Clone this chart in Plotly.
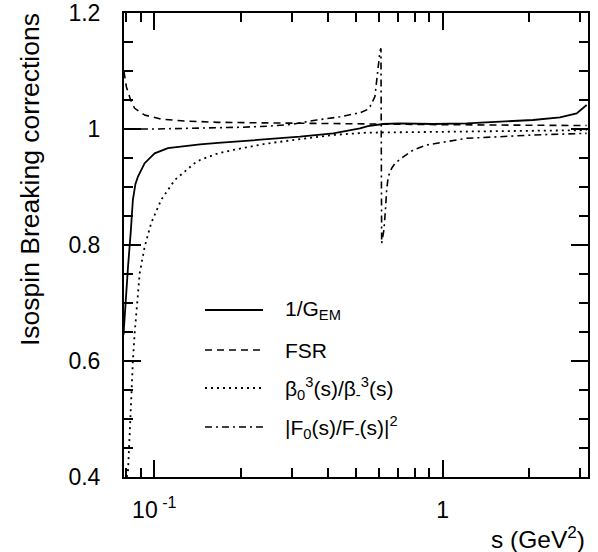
import plotly.graph_objects as go

# ---------------- data ----------------
s_gem = [0.0782, 0.0790, 0.0811, 0.0828, 0.0843, 0.0860, 0.0878, 0.0926, 0.1003,
         0.1115, 0.1274, 0.1441, 0.1663, 0.1879, 0.2453, 0.3200, 0.4174, 0.5167,
         0.5500, 0.6223, 0.7110, 0.9256, 1.211, 1.580, 2.056, 2.552, 2.915, 3.157]
v_gem = [0.645, 0.680, 0.763, 0.820, 0.878, 0.905, 0.918, 0.941, 0.958,
         0.967, 0.971, 0.9736, 0.976, 0.978, 0.982, 0.9867, 0.9925, 1.001,
         1.005, 1.0086, 1.0098, 1.0086, 1.0098, 1.0126, 1.0155, 1.020, 1.027, 1.0414]

s_fsr = [0.0785, 0.0800, 0.0828, 0.0855, 0.0926, 0.1057, 0.1274, 0.1420, 0.1663,
         0.2450, 0.3200, 0.5167, 0.6200, 1.000, 2.000, 3.157]
v_fsr = [1.099, 1.073, 1.050, 1.0357, 1.024, 1.017, 1.0138, 1.0126, 1.0115,
         1.0105, 1.0098, 1.0090, 1.0086, 1.0075, 1.0065, 1.006]

s_beta = [0.0803, 0.0811, 0.0822, 0.0832, 0.0843, 0.0855, 0.0873, 0.0890, 0.0926,
          0.0976, 0.1057, 0.1177, 0.1380, 0.1441, 0.1663, 0.1879, 0.2453, 0.3200,
          0.4174, 0.5450, 0.7110, 1.000, 1.580, 3.157]
v_beta = [0.400, 0.412, 0.476, 0.550, 0.600, 0.648, 0.705, 0.751, 0.797,
          0.838, 0.878, 0.912, 0.941, 0.9466, 0.958, 0.964, 0.975, 0.983,
          0.9897, 0.9937, 0.9943, 0.9955, 0.997, 0.998]

s_ff = [0.0785, 0.1000, 0.2000, 0.2500, 0.3000, 0.3657, 0.4404, 0.5167, 0.5450,
        0.5597, 0.5823, 0.5903, 0.5979, 0.6061, 0.6110, 0.6125, 0.6144, 0.6257,
        0.6308, 0.6344, 0.6394, 0.6477, 0.6654, 0.6836, 0.7301, 0.7907, 0.8800,
        0.9532, 1.148, 1.211, 1.580, 2.056, 3.157]
v_ff = [1.000, 1.000, 1.003, 1.005, 1.008, 1.0155, 1.021, 1.028, 1.033,
        1.0385, 1.056, 1.084, 1.116, 1.134, 1.139, 1.000, 0.803, 0.826,
        0.843, 0.866, 0.895, 0.918, 0.932, 0.941, 0.952, 0.9638, 0.9724,
        0.975, 0.981, 0.984, 0.9867, 0.9897, 0.9925]

legend_labels = ["1/G<sub>EM</sub>", "FSR",
                 "β<sub>0</sub><sup>3</sup>(s)/β<sub>-</sub><sup>3</sup>(s)",
                 "|F<sub>0</sub>(s)/F<sub>-</sub>(s)|<sup>2</sup>"]

x_major = [0.1, 1]
x_major_text = ["10<sup> -1</sup>", "1"]
x_minor = [0.08, 0.09, 0.2, 0.3, 0.4, 0.5, 0.6, 0.7, 0.8, 0.9, 2, 3]
y_major = [0.4, 0.6, 0.8, 1.0, 1.2]
y_major_text = ["0.4", "0.6", "0.8", "1", "1.2"]

# ---------------- styling ----------------
FONT = "Liberation Sans, Arial, Helvetica, sans-serif"
dashes = ["solid", "7px,5px", "2px,4px", "7px,4px,2px,4px"]
widths = [1.8, 1.6, 1.8, 1.6]

fig = go.Figure()
series = [(s_gem, v_gem), (s_fsr, v_fsr), (s_beta, v_beta), (s_ff, v_ff)]
for (sx, sy), d, w, name in zip(series, dashes, widths, legend_labels):
    fig.add_trace(go.Scatter(x=sx, y=sy, mode="lines", name=name,
                             line=dict(color="black", width=w, dash=d),
                             showlegend=False, hoverinfo="skip"))

# manual legend
L, R, T, B = 124, 588, 13, 477
W, H = R - L, B - T
def px(xp):
    return (xp - L) / W
def py(yp):
    return (B - yp) / H

row_y = [310, 350, 388, 427]
for ry, d, w, lab in zip(row_y, dashes, widths, legend_labels):
    fig.add_shape(type="line", xref="paper", yref="paper",
                  x0=px(205), x1=px(263), y0=py(ry), y1=py(ry),
                  line=dict(color="black", width=w, dash=d))
    fig.add_annotation(xref="paper", yref="paper", x=px(283), y=py(ry),
                       text=lab, showarrow=False, xanchor="left", yanchor="middle",
                       font=dict(family=FONT, size=21, color="black"))

# axis titles
fig.add_annotation(xref="paper", yref="paper", x=px(30), y=py(180),
                   text="Isospin Breaking corrections", textangle=-90,
                   showarrow=False, xanchor="center", yanchor="middle",
                   font=dict(family=FONT, size=26.5, color="black"))
fig.add_annotation(xref="paper", yref="paper", x=px(587), y=py(537),
                   text="s (GeV<sup>2</sup>)", showarrow=False,
                   xanchor="right", yanchor="middle",
                   font=dict(family=FONT, size=24.5, color="black"))

fig.update_layout(
    width=598, height=552,
    margin=dict(l=L, r=598 - R, t=T, b=552 - B, autoexpand=False),
    paper_bgcolor="white", plot_bgcolor="white",
    font=dict(family=FONT, size=22, color="black"),
    xaxis=dict(type="log", range=[-1.105, 0.504], automargin=False,
               showline=True, linewidth=2, linecolor="black", mirror="allticks",
               showgrid=False, zeroline=False,
               ticks="inside", ticklen=17, tickwidth=1.5, tickcolor="black",
               tickmode="array", tickvals=x_major, ticktext=x_major_text,
               tickfont=dict(family=FONT, size=23), ticklabelstandoff=11,
               minor=dict(tickmode="array", tickvals=x_minor, ticks="inside",
                          ticklen=9, tickwidth=1.5, tickcolor="black", showgrid=False)),
    yaxis=dict(range=[0.4, 1.2], automargin=False,
               showline=True, linewidth=2, linecolor="black", mirror="allticks",
               showgrid=False, zeroline=False,
               ticks="inside", ticklen=17, tickwidth=1.5, tickcolor="black",
               tickmode="array", tickvals=y_major, ticktext=y_major_text,
               tickfont=dict(family=FONT, size=23), ticklabelstandoff=17,
               minor=dict(dtick=0.05, tick0=0.4, ticks="inside",
                          ticklen=9, tickwidth=1.5, tickcolor="black", showgrid=False)),
)

fig.write_html("out.html", config={"displayModeBar": False},
               post_script="document.body.style.margin='0px';")
